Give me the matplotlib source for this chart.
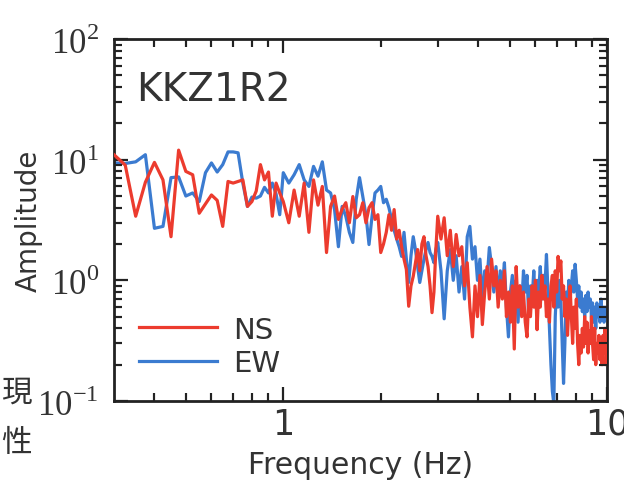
import matplotlib
matplotlib.use("Agg")
import matplotlib.pyplot as plt
from matplotlib.ticker import FixedLocator, NullFormatter, FixedFormatter
from matplotlib.markers import TICKUP, TICKDOWN, TICKLEFT, TICKRIGHT

plt.rcParams['mathtext.fontset'] = 'custom'
plt.rcParams['mathtext.rm'] = 'Liberation Serif'

# ---------------- data ----------------
freq_low = [0.300, 0.325, 0.350, 0.375, 0.400, 0.425, 0.450, 0.475, 0.500, 0.525,
            0.550, 0.575, 0.600, 0.625, 0.650, 0.675, 0.700, 0.725, 0.750, 0.775,
            0.800, 0.825, 0.850, 0.875, 0.900, 0.925, 0.950, 0.975, 1.000]
freq_mid = [1.04, 1.08, 1.12, 1.16, 1.20, 1.24, 1.28, 1.32, 1.36, 1.40,
            1.44, 1.48, 1.52, 1.56, 1.60, 1.64, 1.68, 1.72, 1.76, 1.80,
            1.84, 1.88, 1.92, 1.96, 2.00, 2.04, 2.08, 2.12, 2.16, 2.20,
            2.24, 2.28, 2.32, 2.36, 2.40, 2.44, 2.48, 2.52, 2.56, 2.60,
            2.64, 2.68, 2.72, 2.76, 2.80, 2.84, 2.88, 2.92, 2.96, 3.00]
freq_high = [3.07, 3.14, 3.21, 3.28, 3.35, 3.42, 3.49, 3.56, 3.63, 3.70,
             3.77, 3.84, 3.91, 3.98, 4.05, 4.12, 4.19, 4.26, 4.33, 4.40,
             4.47, 4.54, 4.61, 4.68, 4.75, 4.82, 4.89, 4.96, 5.03, 5.10,
             5.17, 5.24, 5.31, 5.38, 5.45, 5.52, 5.59, 5.66, 5.73, 5.80,
             5.87, 5.94, 6.01, 6.08, 6.15, 6.22, 6.29, 6.36, 6.43, 6.50,
             6.57, 6.64, 6.71, 6.78, 6.85, 6.92, 6.99, 7.06, 7.13, 7.20,
             7.27, 7.34, 7.41, 7.48, 7.55, 7.62, 7.69, 7.76, 7.83, 7.90,
             7.97, 8.04, 8.11, 8.18, 8.25, 8.32, 8.39, 8.46, 8.53, 8.60,
             8.67, 8.74, 8.81, 8.88, 8.95, 9.02, 9.09, 9.16, 9.23, 9.30,
             9.37, 9.44, 9.51, 9.58, 9.65, 9.72, 9.79, 9.86, 9.93, 10.00]

ns_low = [11.0, 9.0, 3.4, 6.5, 9.5, 6.8, 2.3, 12.0, 8.0, 7.5,
          3.6, 4.3, 5.1, 4.6, 2.8, 6.6, 6.4, 6.6, 6.8, 4.1,
          4.5, 5.5, 9.1, 6.8, 7.9, 3.4, 6.4, 5.3, 4.5]
ns_mid = [3.0, 5.6, 3.4, 6.4, 2.5, 6.8, 4.2, 6.0, 1.7, 4.1,
          5.0, 3.2, 3.9, 4.4, 3.0, 4.95, 3.3, 3.5, 4.4, 3.0,
          4.0, 4.4, 3.2, 3.5, 1.7, 2.0, 2.5, 3.5, 2.6, 3.86,
          2.2, 2.6, 1.9, 1.5, 1.23, 0.61, 0.9, 1.08, 1.4, 1.8,
          1.2, 2.0, 2.3, 1.6, 1.3, 0.9, 0.54, 0.8, 1.8, 3.4]
ns_high = [2.2, 3.3, 1.6, 2.6, 1.3, 2.4, 1.6, 1.9, 0.9, 1.4,
           0.6, 0.34, 0.9, 0.5, 1.1, 0.43, 0.8, 1.3, 0.7, 1.5,
           0.9, 1.2, 0.6, 1.0, 0.7, 1.2, 0.5, 0.8, 0.45, 0.9,
           0.27, 1.3, 0.6, 0.9, 0.5, 0.8, 0.45, 0.34, 0.7, 0.5,
           0.9, 0.6, 1.0, 0.39, 0.8, 0.6, 1.1, 0.7, 0.9, 0.5,
           0.7, 0.45, 0.9, 1.1, 0.6, 1.2, 0.8, 1.58, 1.2, 1.45,
           0.7, 0.9, 0.5, 0.7, 0.35, 0.6, 0.9, 0.5, 0.3, 0.6,
           0.4, 0.7, 0.3, 0.2, 0.35, 0.25, 0.4, 0.28, 0.5, 0.3,
           0.45, 0.25, 0.38, 0.3, 0.5, 0.3, 0.22, 0.4, 0.2, 0.3,
           0.25, 0.35, 0.22, 0.3, 0.2, 0.35, 0.25, 0.4, 0.2, 0.3]

ew_low = [9.4, 9.3, 9.6, 11.0, 2.7, 2.8, 7.1, 7.2, 5.0, 5.3,
          4.5, 7.8, 9.4, 7.9, 9.1, 11.6, 11.6, 11.4, 6.4, 4.1,
          4.9, 4.8, 5.0, 5.9, 5.3, 6.4, 5.2, 3.5, 7.8]
ew_mid = [6.4, 7.5, 9.1, 6.8, 6.0, 8.8, 7.3, 9.6, 5.6, 5.3,
          3.86, 1.9, 4.1, 3.4, 2.5, 2.06, 4.7, 7.1, 4.95, 3.5,
          1.98, 3.4, 5.3, 5.6, 6.0, 4.4, 4.7, 4.0, 3.2, 2.6,
          2.2, 1.9, 1.58, 2.5, 1.5, 0.96, 1.6, 2.3, 1.8, 1.3,
          0.96, 1.2, 1.5, 1.8, 2.06, 1.7, 1.58, 1.4, 1.8, 2.06]
ew_high = [1.2, 0.48, 1.2, 1.8, 1.0, 1.6, 0.8, 1.3, 0.7, 2.3,
           2.8, 1.5, 1.9, 1.0, 1.5, 0.7, 1.2, 1.0, 1.87, 1.3,
           0.8, 1.3, 0.7, 1.2, 0.9, 1.4, 0.6, 0.34, 0.8, 1.1,
           0.7, 1.0, 0.45, 0.9, 0.6, 1.2, 0.8, 1.1, 0.5, 0.9,
           0.7, 1.2, 0.6, 1.0, 0.8, 1.3, 0.7, 1.1, 0.9, 1.64,
           0.8, 0.4, 0.2, 0.12, 0.095, 0.5, 0.9, 0.6, 1.0, 0.7,
           0.3, 0.14, 0.3, 0.8, 0.6, 1.0, 0.7, 0.9, 1.2, 0.8,
           1.36, 1.0, 0.7, 0.9, 0.6, 0.8, 0.55, 0.7, 0.5, 0.75,
           0.55, 0.8, 0.6, 0.7, 0.5, 0.65, 0.45, 0.6, 0.4, 0.65,
           0.5, 0.6, 0.45, 0.7, 0.5, 0.6, 0.45, 0.6, 0.5, 0.55]

freq = freq_low + freq_mid + freq_high
ns = ns_low + ns_mid + ns_high
ew = ew_low + ew_mid + ew_high

series_names = ["NS", "EW"]
station = "KKZ1R2"
x_ticks = [1, 10]
x_ticklabels = ["1", "10"]
x_minor = [0.4, 0.5, 0.6, 0.7, 0.8, 0.9, 2, 3, 4, 5, 6, 7, 8, 9]
y_ticks = [0.1, 1, 10, 100]
y_ticklabels = [r"$10^{-1}$", r"$10^{0}$", r"$10^{1}$", r"$10^{2}$"]
y_minor = [0.2, 0.3, 0.4, 0.5, 0.6, 0.7, 0.8, 0.9,
           2, 3, 4, 5, 6, 7, 8, 9,
           20, 30, 40, 50, 60, 70, 80, 90]

# ---------------- plotting ----------------
fig = plt.figure(figsize=(6.24, 4.81), dpi=100)
ax = fig.add_axes([0.1827, 0.1642, 0.7901, 0.7526])
ax.set_xscale("log")
ax.set_yscale("log")

red = "#ec3b2e"
blue = "#3b7bd0"
h_ns, = ax.plot(freq, ns, color=red, lw=2.3, zorder=3)
h_ew, = ax.plot(freq, ew, color=blue, lw=2.3, zorder=2)

# minor ticks drawn as tick-shaped markers on the four sides
tick_kw = dict(linestyle="none", color="#222222", markersize=6,
               markeredgewidth=1.5, clip_on=False, zorder=4)
ax.plot(x_minor, [0] * len(x_minor), transform=ax.get_xaxis_transform(), marker=TICKUP, **tick_kw)
ax.plot(x_minor, [1] * len(x_minor), transform=ax.get_xaxis_transform(), marker=TICKDOWN, **tick_kw)
ax.plot([0] * len(y_minor), y_minor, transform=ax.get_yaxis_transform(), marker=TICKRIGHT, **tick_kw)
ax.plot([1] * len(y_minor), y_minor, transform=ax.get_yaxis_transform(), marker=TICKLEFT, **tick_kw)

ax.set_xlim(0.3, 10)
ax.set_ylim(0.1, 100)

ax.xaxis.set_major_locator(FixedLocator(x_ticks))
ax.xaxis.set_major_formatter(FixedFormatter(x_ticklabels))
ax.xaxis.set_minor_locator(FixedLocator(x_minor))
ax.xaxis.set_minor_formatter(NullFormatter())
ax.yaxis.set_major_locator(FixedLocator(y_ticks))
ax.yaxis.set_major_formatter(FixedFormatter(y_ticklabels))
ax.yaxis.set_minor_locator(FixedLocator(y_minor))
ax.yaxis.set_minor_formatter(NullFormatter())

ax.tick_params(which="both", direction="in", top=True, right=True,
               bottom=True, left=True, color="#222222")
ax.tick_params(which="major", length=10, width=1.6, labelsize=25, labelcolor="#333333")
ax.tick_params(which="minor", length=6, width=1.5)
ax.tick_params(axis="x", which="major", pad=4)
ax.tick_params(axis="y", which="major", pad=11)

for s in ax.spines.values():
    s.set_linewidth(2.0)
    s.set_color("#222222")

sans = ["DejaVu Sans"]
ax.set_xlabel("Frequency (Hz)", fontsize=21.5, family=sans, color="#333333", labelpad=7)
ax.set_ylabel("Amplitude", fontsize=20, family=sans, color="#333333", labelpad=-4)

ax.text(0.045, 0.915, station, transform=ax.transAxes, fontsize=28, family=sans,
        color="#333333", va="top", ha="left")

leg = ax.legend([h_ns, h_ew], series_names, loc="lower left", bbox_to_anchor=(0.05, 0.065),
                frameon=False, prop={"family": sans, "size": 21}, handlelength=2.7,
                handletextpad=0.55, labelspacing=0.2, borderpad=0, borderaxespad=0)
for t in leg.get_texts():
    t.set_color("#333333")

# characters of neighbouring text at the left edge
cjk = ["Noto Sans CJK JP", "DejaVu Sans"]
fig.text(0.002, 0.165, "現", fontsize=22, family=cjk, color="#333333")
fig.text(0.002, 0.06, "性", fontsize=22, family=cjk, color="#333333")

fig.savefig("out.png", dpi=100)
